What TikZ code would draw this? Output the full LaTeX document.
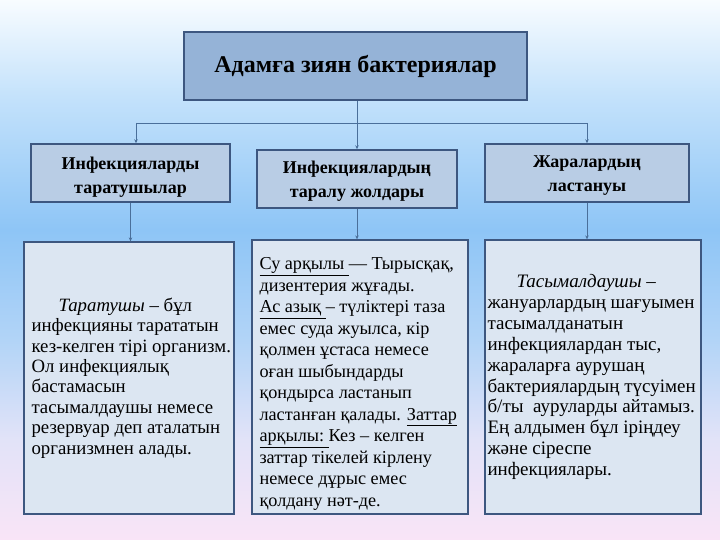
\documentclass[tikz,border=0pt]{standalone}
\usepackage{fontspec}
\setmainfont{Liberation Serif}
\usetikzlibrary{arrows.meta}
\definecolor{bgA}{HTML}{F9E4F7}
\definecolor{bgB}{HTML}{E2E3F8}
\definecolor{bgC}{HTML}{B2D4F7}
\definecolor{bgD}{HTML}{8EC5F6}
\definecolor{bgE}{HTML}{C2E1FB}
\definecolor{bgF}{HTML}{F8FCFF}
\definecolor{topfill}{HTML}{95B3D7}
\definecolor{midfill}{HTML}{B9CDE5}
\definecolor{lowfill}{HTML}{DCE6F2}
\definecolor{boxline}{HTML}{3D5780}
\definecolor{conline}{HTML}{4A6F9A}
\pgfdeclareverticalshading{bgshade}{100bp}{color(0bp)=(bgA); color(25bp)=(bgA); color(34.26bp)=(bgB); color(43.52bp)=(bgC); color(53.7bp)=(bgD); color(65.74bp)=(bgE); color(75bp)=(bgF); color(100bp)=(bgF)}
\tikzset{
  topbox/.style={draw=boxline, line width=1.4pt, fill=topfill, minimum width=343pt, minimum height=68pt, inner sep=0pt},
  midbox/.style={draw=boxline, line width=1.4pt, fill=midfill, minimum height=58pt, inner sep=0pt},
  midtext/.style={align=center, inner sep=0pt, font=\fontsize{18}{23.5}\selectfont\bfseries},
  lowbox/.style={draw=boxline, line width=1.3pt, fill=lowfill, inner sep=0pt},
  bodytext/.style={anchor=west, align=left, inner sep=0pt},
  conn/.style={draw=conline, line width=0.9pt},
  arr/.style={conn, -{Stealth[length=4pt,width=3.5pt]}}
}
\begin{document}
\begin{tikzpicture}[x=1pt,y=-1pt]
\shade[shading=bgshade] (0,0) rectangle (720,540);
\useasboundingbox (0,0) rectangle (720,540);

\node[topbox, font=\fontsize{24}{27}\selectfont\bfseries] (top) at (355.5,66) {Адамға зиян бактериялар};

\node[midbox, minimum width=199pt] (m1) at (130.5,173) {};
\node[midbox, minimum width=200pt] (m2) at (357,179) {};
\node[midbox, minimum width=204pt] (m3) at (587,173) {};
\node[midtext] (m1t) at ([yshift=-4pt]m1.center) {Инфекцияларды\\таратушылар};
\node[midtext] (m2t) at ([yshift=-2pt]m2.center) {Инфекциялардың\\таралу жолдары};
\node[midtext] (m3t) at ([yshift=-2.5pt]m3.center) {Жаралардың\\ластануы};

\node[lowbox, minimum width=210pt, minimum height=272pt] (b1) at (129,378) {};
\node[lowbox, minimum width=216pt, minimum height=274pt] (b2) at (360,377) {};
\node[lowbox, minimum width=216pt, minimum height=274pt] (b3) at (593,377) {};

\node[bodytext, font=\fontsize{18.8}{20.4}\selectfont] (t1) at ([xshift=8pt]b1.west) {\hspace*{27pt}\textit{Таратушы} – бұл\\
инфекцияны тарататын\\
кез-келген тірі организм.\\
Ол инфекциялық\\
бастамасын\\
тасымалдаушы немесе\\
резервуар деп аталатын\\
организмнен алады.};

\node[bodytext, font=\fontsize{18.2}{21.5}\selectfont] (t2) at ([xshift=8pt,yshift=-7pt]b2.west) {\underline{Су арқылы\ }— Тырысқақ,\\
дизентерия жұғады.\\
\underline{Ас азық\ }– түліктері таза\\
емес суда жуылса, кір\\
қолмен ұстаса немесе\\
оған шыбындарды\\
қондырса ластанып\\
ластанған қалады. \underline{Заттар}\\
\underline{арқылы:\ }Кез – келген\\
заттар тікелей кірлену\\
немесе дұрыс емес\\
қолдану нәт-де.};

\node[bodytext, font=\fontsize{19}{20.9}\selectfont] (t3) at ([xshift=3pt]b3.west) {\hspace*{29pt}\textit{Тасымалдаушы} –\\
жануарлардың шағуымен\\
тасымалданатын\\
инфекциялардан тыс,\\
жараларға аурушаң\\
бактериялардың түсуімен\\
б/ты\ \ ауруларды айтамыз.\\
Ең алдымен бұл іріңдеу\\
және сіреспе\\
инфекциялары.};

\coordinate (bar) at (357,123);
\coordinate (barL) at (136,123);
\coordinate (barR) at (587,123);
\draw[conn] (top.south -| bar) -- (bar);
\draw[conn] (barL) -- (barR);
\draw[arr] (barL) -- (barL |- m1.north);
\draw[arr] (bar) -- (bar |- m2.north);
\draw[arr] (barR) -- (barR |- m3.north);

\draw[arr] (m1.south) -- (m1.south |- b1.north);
\draw[arr] (m2.south) -- (m2.south |- b2.north);
\draw[arr] (m3.south) -- (m3.south |- b3.north);
\end{tikzpicture}
\end{document}
